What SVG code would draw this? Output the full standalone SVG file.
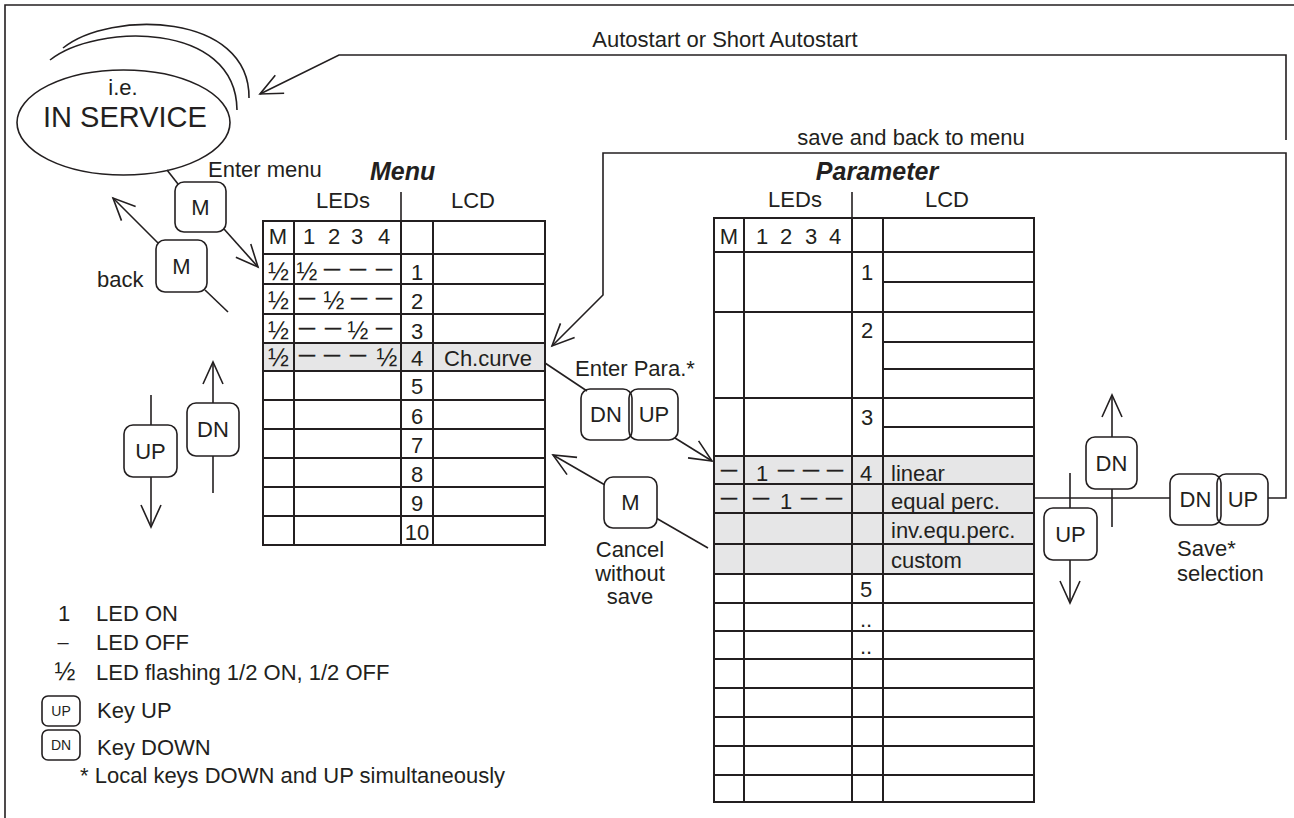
<svg xmlns="http://www.w3.org/2000/svg" width="1294" height="818" viewBox="0 0 1294 818">
<style>
text{font-family:"Liberation Sans",Arial,Helvetica,sans-serif;fill:#231f20;font-size:22px}
.c{text-anchor:middle}
.bi{font-weight:bold;font-style:italic;font-size:25px}
.d{font-size:16px;stroke:#231f20;stroke-width:0.5;text-anchor:middle}
.h{font-size:25px;text-anchor:middle}
.ln{stroke:#231f20;stroke-width:1.6;fill:none}
.tb{stroke:#231f20;stroke-width:2;fill:none}
.key{fill:#fff;stroke:#231f20;stroke-width:1.6}
.pair{fill:none;stroke:#231f20;stroke-width:1.6}
.sh{fill:#e6e6e7}
.arr{marker-end:url(#ah)}
.sm{font-size:14px}
</style>
<defs>
<marker id="ah" markerUnits="userSpaceOnUse" viewBox="-25 -13 28 26" markerWidth="28" markerHeight="26" refX="0" refY="0" orient="auto">
<path d="M-22,-10 L0,0 L-22,10" fill="none" stroke="#231f20" stroke-width="1.6"/>
</marker>
</defs>

<g id="frame">
<path class="ln" d="M5,818 V5 H1294"/>
</g>

<g id="connectors">
<path class="ln arr" d="M1286,140 V55 H339 L260,94"/>
<path class="ln arr" d="M1268,498 H1286 V153 H603 V295 L552,346"/>
<path class="ln" d="M167,170 L178,184"/>
<path class="ln arr" d="M224,229 L258,267"/>
<path class="ln arr" d="M158,243 L113,198"/>
<path class="ln" d="M205,290 L228,312"/>
<path class="ln" d="M545,363 L587,391"/>
<path class="ln arr" d="M675,438 L712,461"/>
<path class="ln arr" d="M605,485 L553,455"/>
<path class="ln" d="M656,518 L708,548"/>
<path class="ln" d="M1034,498 H1170"/>
<path class="ln" d="M1070,473 V508"/>
<path class="ln arr" d="M1070,560 V603"/>
<path class="ln" d="M1112,489 V527"/>
<path class="ln arr" d="M1112,437 V395"/>
<path class="ln" d="M151,395 V425"/>
<path class="ln arr" d="M151,477 V527"/>
<path class="ln" d="M213,456 V493"/>
<path class="ln arr" d="M213,403 V362"/>
</g>

<g id="labels">
<text class="c" x="725" y="47">Autostart or Short Autostart</text>
<text class="c" x="911" y="145">save and back to menu</text>
<text x="208" y="177">Enter menu</text>
<text x="97" y="287">back</text>
<text x="575" y="376">Enter Para.*</text>
<text class="c" x="630" y="557">Cancel</text>
<text class="c" x="630" y="580.5">without</text>
<text class="c" x="630" y="604">save</text>
<text x="1177" y="556">Save*</text>
<text x="1177" y="581">selection</text>
</g>

<g id="in-service">
<path class="ln" d="M50,60 C95,24 236,20 237,110"/>
<path class="ln" d="M63,48 C110,10 250,12 249,98"/>
<ellipse class="ln" cx="123.5" cy="122.5" rx="106.5" ry="52.5"/>
<text class="c" x="123" y="95">i.e.</text>
<text class="c" x="125" y="127" style="font-size:29px">IN SERVICE</text>
</g>

<g id="key-enter-menu">
<rect class="key" x="175" y="182" width="51" height="50" rx="9"/>
<text class="c" x="200.5" y="215">M</text>
</g>
<g id="key-back">
<rect class="key" x="156" y="240" width="51" height="52" rx="9"/>
<text class="c" x="181.5" y="274">M</text>
</g>
<g id="key-left-up">
<rect class="key" x="124" y="425" width="53" height="52" rx="9"/>
<text class="c" x="150.5" y="459">UP</text>
</g>
<g id="key-left-dn">
<rect class="key" x="187" y="403" width="52" height="53" rx="9"/>
<text class="c" x="213" y="437">DN</text>
</g>
<g id="key-enter-para">
<rect class="pair" x="581" y="389" width="51" height="51" rx="9"/>
<rect class="pair" x="629" y="389" width="49" height="51" rx="9"/>
<text class="c" x="606" y="422">DN</text>
<text class="c" x="654" y="422">UP</text>
</g>
<g id="key-cancel">
<rect class="key" x="604" y="477" width="53" height="51" rx="9"/>
<text class="c" x="630.5" y="510">M</text>
</g>
<g id="key-right-up">
<rect class="key" x="1044" y="508" width="53" height="52" rx="9"/>
<text class="c" x="1070.5" y="542">UP</text>
</g>
<g id="key-right-dn">
<rect class="key" x="1086" y="437" width="51" height="52" rx="9"/>
<text class="c" x="1111.5" y="471">DN</text>
</g>
<g id="key-save">
<rect class="pair" x="1170" y="474" width="51" height="51" rx="9"/>
<rect class="pair" x="1217" y="474" width="51" height="51" rx="9"/>
<text class="c" x="1195.5" y="507">DN</text>
<text class="c" x="1243" y="507">UP</text>
</g>

<g id="menu-table">
<text class="bi" x="370" y="180">Menu</text>
<text class="c" x="343" y="208">LEDs</text>
<text class="c" x="473" y="208">LCD</text>
<path class="ln" d="M401,192 V221"/>
<rect class="sh" x="263" y="343" width="282" height="28"/>
<path class="tb" d="M263,221 H545 V545 H263 Z M294,221 V545 M401,221 V545 M433,221 V545 M263,254 H545 M263,284 H545 M263,314 H545 M263,343 H545 M263,371 H545 M263,400 H545 M263,429 H545 M263,458 H545 M263,487 H545 M263,516 H545"/>
<text class="c" x="278" y="244">M</text>
<text class="c" y="244"><tspan x="309">1</tspan><tspan x="334">2</tspan><tspan x="357">3</tspan><tspan x="384">4</tspan></text>
<text class="h" x="278.5" y="280">½</text>
<text class="h" x="278.5" y="309">½</text>
<text class="h" x="278.5" y="339">½</text>
<text class="h" x="278.5" y="366">½</text>
<text class="h" x="307" y="280">½</text>
<text class="d" y="274"><tspan x="332">—</tspan><tspan x="358">—</tspan><tspan x="384">—</tspan></text>
<text class="h" x="334" y="309">½</text>
<text class="d" y="303"><tspan x="307">—</tspan><tspan x="359">—</tspan><tspan x="384">—</tspan></text>
<text class="h" x="358" y="339">½</text>
<text class="d" y="333"><tspan x="307">—</tspan><tspan x="333">—</tspan><tspan x="384">—</tspan></text>
<text class="h" x="387" y="366">½</text>
<text class="d" y="360"><tspan x="307">—</tspan><tspan x="332">—</tspan><tspan x="358">—</tspan></text>
<text class="c" x="417" y="280">1</text>
<text class="c" x="417" y="309">2</text>
<text class="c" x="417" y="339">3</text>
<text class="c" x="417" y="366">4</text>
<text class="c" x="417" y="394">5</text>
<text class="c" x="417" y="424">6</text>
<text class="c" x="417" y="453">7</text>
<text class="c" x="417" y="482">8</text>
<text class="c" x="417" y="511">9</text>
<text class="c" x="417" y="540">10</text>
<text x="444" y="366">Ch.curve</text>
</g>

<g id="parameter-table">
<text class="bi c" x="877" y="180">Parameter</text>
<text class="c" x="795" y="207">LEDs</text>
<text class="c" x="947" y="207">LCD</text>
<path class="ln" d="M852,192 V218"/>
<rect class="sh" x="714" y="456" width="320" height="118"/>
<path class="tb" d="M714,218 H1034 V802 H714 Z M744,218 V802 M852,218 V802 M883,218 V802 M714,252 H1034 M714,312 H1034 M714,398 H1034 M714,456 H1034 M714,484 H1034 M714,513 H1034 M714,544 H1034 M714,574 H1034 M714,603 H1034 M714,631 H1034 M714,659 H1034 M714,688 H1034 M714,717 H1034 M714,746 H1034 M714,775 H1034 M883,282 H1034 M883,342 H1034 M883,369 H1034 M883,427 H1034"/>
<text class="c" x="729" y="244">M</text>
<text class="c" y="244"><tspan x="762">1</tspan><tspan x="786">2</tspan><tspan x="811">3</tspan><tspan x="835">4</tspan></text>
<text class="c" x="867" y="280">1</text>
<text class="c" x="867" y="338">2</text>
<text class="c" x="867" y="425">3</text>
<text class="d" y="475"><tspan x="729">—</tspan><tspan x="786">—</tspan><tspan x="811">—</tspan><tspan x="835">—</tspan></text>
<text class="c" x="762" y="481">1</text>
<text class="c" x="866" y="481">4</text>
<text x="891" y="481">linear</text>
<text class="d" y="503"><tspan x="729">—</tspan><tspan x="761">—</tspan><tspan x="809">—</tspan><tspan x="834">—</tspan></text>
<text class="c" x="786" y="509">1</text>
<text x="891" y="509">equal perc.</text>
<text x="891" y="538">inv.equ.perc.</text>
<text x="891" y="568">custom</text>
<text class="c" x="866" y="597">5</text>
<text class="c" x="866" y="627">..</text>
<text class="c" x="866" y="654">..</text>
</g>

<g id="legend">
<text class="c" x="64" y="621">1</text>
<text x="96" y="621">LED ON</text>
<text class="c" x="63" y="649" style="font-size:20px">–</text>
<text x="96" y="650">LED OFF</text>
<text class="h" x="65" y="680">½</text>
<text x="96" y="680">LED flashing 1/2 ON, 1/2 OFF</text>
<rect class="key" x="42" y="696" width="38" height="30" rx="6"/>
<text class="c sm" x="61" y="716">UP</text>
<text x="97" y="718">Key UP</text>
<rect class="key" x="42" y="730" width="38" height="30" rx="6"/>
<text class="c sm" x="61" y="750">DN</text>
<text x="97" y="755">Key DOWN</text>
<text x="80" y="783">* Local keys DOWN and UP simultaneously</text>
</g>
</svg>
